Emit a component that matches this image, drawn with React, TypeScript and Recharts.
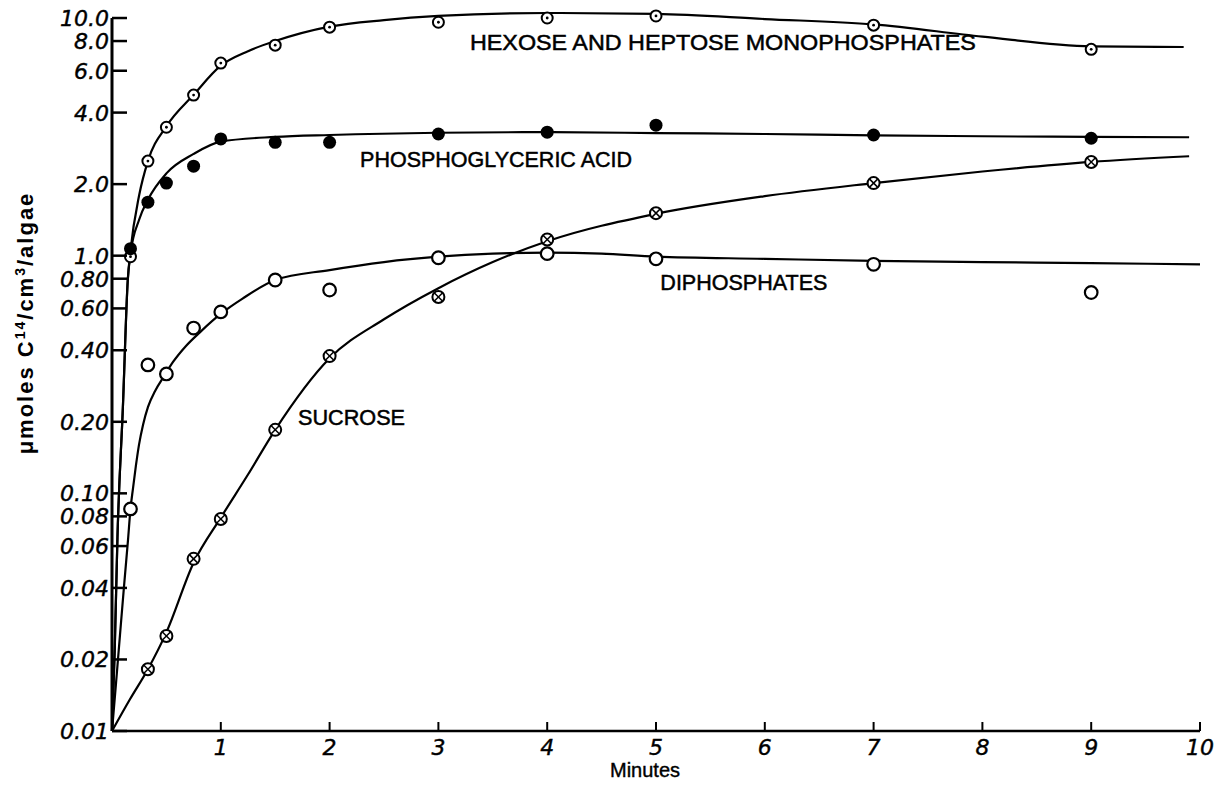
import React from 'react';
import { ComposedChart, Line, Scatter, XAxis, YAxis, ReferenceLine, ReferenceDot } from 'recharts';

// axis ticks
const X_TICKS = [0, 1, 2, 3, 4, 5, 6, 7, 8, 9, 10];
const Y_TICKS = [0.01, 0.02, 0.04, 0.06, 0.08, 0.1, 0.2, 0.4, 0.6, 0.8, 1, 2, 4, 6, 8, 10];
const Y_TICK_LABELS = ['0.01', '0.02', '0.04', '0.06', '0.08', '0.10', '0.20', '0.40', '0.60', '0.80', '1.0', '2.0', '4.0', '6.0', '8.0', '10.0'];

// measured points (minutes -> umoles C14/cm3 algae)
const SAMPLE_MINUTES = [0.17, 0.33, 0.5, 0.75, 1, 1.5, 2, 3, 4, 5, 7, 9];
const HEXOSE_POINTS = [0.99, 2.5, 3.47, 4.74, 6.46, 7.69, 9.15, 9.6, 10.0, 10.2, 9.33, 7.38];
const PGA_POINTS = [1.07, 1.68, 2.02, 2.38, 3.1, 3.0, 3.0, 3.25, 3.31, 3.54, 3.22, 3.12];
const DIPHOSPHATE_POINTS = [0.086, 0.347, 0.318, 0.496, 0.58, 0.79, 0.717, 0.98, 1.02, 0.97, 0.92, 0.7];
const SUCROSE_MINUTES = [0.33, 0.5, 0.75, 1, 1.5, 2, 3, 4, 5, 7, 9];
const SUCROSE_POINTS = [0.0182, 0.0251, 0.053, 0.078, 0.185, 0.378, 0.67, 1.17, 1.51, 2.02, 2.48];

// hand-drawn curves
const HEXOSE_CURVE_X = [0, 0.025, 0.05, 0.1, 0.145, 0.17, 0.25, 0.33, 0.5, 0.75, 1, 1.25, 1.5, 2, 2.5, 3, 4, 5, 6, 7, 8, 9, 9.85];
const HEXOSE_CURVE_Y = [0.01, 0.022, 0.065, 0.23, 0.79, 1.05, 1.8, 2.5, 3.5, 4.75, 6.3, 7.25, 8.0, 9.2, 9.8, 10.2, 10.5, 10.4, 9.9, 9.4, 8.35, 7.6, 7.55];
const PGA_CURVE_X = [0, 0.025, 0.05, 0.1, 0.145, 0.17, 0.25, 0.33, 0.5, 0.75, 1, 1.5, 2, 3, 4, 5, 6, 7, 8, 9, 9.9];
const PGA_CURVE_Y = [0.01, 0.022, 0.065, 0.23, 0.79, 1.02, 1.42, 1.72, 2.22, 2.68, 3.02, 3.16, 3.22, 3.29, 3.31, 3.28, 3.25, 3.21, 3.18, 3.16, 3.15];
const DIPHOSPHATE_CURVE_X = [0, 0.037, 0.0735, 0.11, 0.147, 0.17, 0.193, 0.22, 0.248, 0.285, 0.331, 0.395, 0.469, 0.561, 0.68, 0.81, 1.01, 1.2, 1.5, 2, 2.5, 3, 3.5, 4, 4.5, 5, 6, 7, 8, 9, 10];
const DIPHOSPHATE_CURVE_Y = [0.01, 0.0159, 0.0254, 0.0404, 0.0636, 0.086, 0.105, 0.131, 0.16, 0.194, 0.231, 0.269, 0.306, 0.357, 0.417, 0.477, 0.574, 0.66, 0.79, 0.87, 0.94, 0.99, 1.02, 1.03, 1.02, 0.99, 0.97, 0.95, 0.94, 0.93, 0.92];
const SUCROSE_CURVE_X = [0, 0.165, 0.33, 0.5, 0.75, 1, 1.25, 1.5, 2, 2.5, 3, 3.5, 4, 5, 6, 7, 8, 9, 9.9];
const SUCROSE_CURVE_Y = [0.01, 0.0136, 0.0182, 0.026, 0.051, 0.079, 0.12, 0.185, 0.37, 0.54, 0.73, 0.94, 1.15, 1.5, 1.78, 2.02, 2.26, 2.48, 2.62];

const LETTERING = '"Liberation Sans", Arial, sans-serif';
const DIGITS = '"DejaVu Sans", sans-serif';

// series captions, anchored in data units
const CAPTIONS = [
  { x: 3.29, y: 7.92, text: 'HEXOSE  AND  HEPTOSE  MONOPHOSPHATES', width: 506 },
  { x: 2.28, y: 2.55, text: 'PHOSPHOGLYCERIC  ACID', width: 272 },
  { x: 5.04, y: 0.774, text: 'DIPHOSPHATES', width: 167 },
  { x: 1.71, y: 0.2095, text: 'SUCROSE', width: 107 },
];

const toRows = (xs: number[], ys: number[]) => xs.map((x, i) => ({ x, y: ys[i] }));

const DotCircle = (p: any) => (
  <g>
    <circle cx={p.cx} cy={p.cy} r={5.5} fill="#fff" stroke="#000" strokeWidth={2} />
    <circle cx={p.cx} cy={p.cy} r={1.4} fill="#000" />
  </g>
);
const FilledDot = (p: any) => <circle cx={p.cx} cy={p.cy} r={6.5} fill="#000" />;
const OpenCircle = (p: any) => <circle cx={p.cx} cy={p.cy} r={6.3} fill="#fff" stroke="#000" strokeWidth={2.2} />;
const CrossCircle = (p: any) => {
  const d = 4;
  return (
    <g>
      <circle cx={p.cx} cy={p.cy} r={6} fill="#fff" stroke="#000" strokeWidth={2} />
      <line x1={p.cx - d} y1={p.cy - d} x2={p.cx + d} y2={p.cy + d} stroke="#000" strokeWidth={1.5} />
      <line x1={p.cx - d} y1={p.cy + d} x2={p.cx + d} y2={p.cy - d} stroke="#000" strokeWidth={1.5} />
    </g>
  );
};

const YTick = (props: any) => {
  const { x, y, payload } = props;
  const label = Y_TICK_LABELS[Y_TICKS.indexOf(payload.value)];
  return (
    <g>
      <line x1={x} x2={x + 15} y1={y} y2={y} stroke="#000" strokeWidth={2.5} />
      <text x={x - 3} y={y} dy="0.36em" textAnchor="end" fontFamily={DIGITS} fontStyle="italic" fontSize={22} fill="#000" stroke="#000" strokeWidth={0.4}>
        {label}
      </text>
    </g>
  );
};

const XTick = (props: any) => {
  const { x, y, payload } = props;
  if (payload.value === 0) return <g />;
  return (
    <g>
      <line x1={x} x2={x} y1={y} y2={y - 9} stroke="#000" strokeWidth={2} />
      <text x={x} y={y + 16} dy="0.36em" textAnchor="middle" fontFamily={DIGITS} fontStyle="italic" fontSize={22} fill="#000" stroke="#000" strokeWidth={0.4}>
        {payload.value}
      </text>
    </g>
  );
};

const caption = (text: string, width: number) => (props: any) => {
  const vb = props.viewBox || {};
  return (
    <text x={vb.x} y={vb.y} dy="0.36em" fontFamily={LETTERING} fontSize={22} fill="#000" stroke="#000" strokeWidth={0.5} textLength={width} lengthAdjust="spacingAndGlyphs">
      {text}
    </text>
  );
};

const YLabel = () => (
  <text x={33} y={323} transform="rotate(-90 33 323)" textAnchor="middle" fontFamily={LETTERING} fontWeight="bold" fontSize={22} letterSpacing={2} fill="#000">
    μmoles{'  '}C<tspan dy={-8} fontSize={14}>14</tspan>
    <tspan dy={8}>/cm</tspan>
    <tspan dy={-8} fontSize={14}>3</tspan>
    <tspan dy={8}>/algae</tspan>
  </text>
);

const XLabel = () => (
  <text x={645} y={770} dy="0.36em" textAnchor="middle" fontFamily={LETTERING} fontSize={20} fill="#000" stroke="#000" strokeWidth={0.4}>
    Minutes
  </text>
);

export default function App() {
  const lineProps = { type: 'monotone' as const, dataKey: 'y', stroke: '#000', strokeWidth: 2.2, dot: false, activeDot: false, isAnimationActive: false };
  return (
    <div style={{ position: 'absolute', left: 0, top: 0, width: 1221, height: 786, background: '#fff' }}>
      <ComposedChart width={1221} height={786} margin={{ top: 12, right: 21, bottom: 0, left: 0 }}>
        <XAxis
          type="number"
          dataKey="x"
          domain={[0, 10]}
          ticks={X_TICKS}
          height={55}
          tickSize={0}
          tickMargin={0}
          tickLine={false}
          axisLine={{ stroke: '#000', strokeWidth: 2.5 }}
          tick={<XTick />}
          label={{ content: () => <XLabel /> }}
        />
        <YAxis
          type="number"
          dataKey="y"
          scale="log"
          domain={[0.01, 10.6]}
          ticks={Y_TICKS}
          width={112}
          tickSize={0}
          tickMargin={0}
          tickLine={false}
          axisLine={false}
          tick={<YTick />}
          label={{ content: () => <YLabel /> }}
        />
        <ReferenceLine segment={[{ x: 0, y: 0.01 }, { x: 0, y: 10 }]} stroke="#000" strokeWidth={3} ifOverflow="visible" />
        <Line data={toRows(HEXOSE_CURVE_X, HEXOSE_CURVE_Y)} {...lineProps} />
        <Line data={toRows(PGA_CURVE_X, PGA_CURVE_Y)} {...lineProps} />
        <Line data={toRows(DIPHOSPHATE_CURVE_X, DIPHOSPHATE_CURVE_Y)} {...lineProps} />
        <Line data={toRows(SUCROSE_CURVE_X, SUCROSE_CURVE_Y)} {...lineProps} />
        <Scatter data={toRows(SAMPLE_MINUTES, HEXOSE_POINTS)} dataKey="y" shape={DotCircle} isAnimationActive={false} />
        <Scatter data={toRows(SAMPLE_MINUTES, PGA_POINTS)} dataKey="y" shape={FilledDot} isAnimationActive={false} />
        <Scatter data={toRows(SAMPLE_MINUTES, DIPHOSPHATE_POINTS)} dataKey="y" shape={OpenCircle} isAnimationActive={false} />
        <Scatter data={toRows(SUCROSE_MINUTES, SUCROSE_POINTS)} dataKey="y" shape={CrossCircle} isAnimationActive={false} />
        {CAPTIONS.map((c) => (
          <ReferenceDot key={c.text} x={c.x} y={c.y} r={0} fill="none" stroke="none" ifOverflow="visible" label={caption(c.text, c.width)} />
        ))}
      </ComposedChart>
    </div>
  );
}
